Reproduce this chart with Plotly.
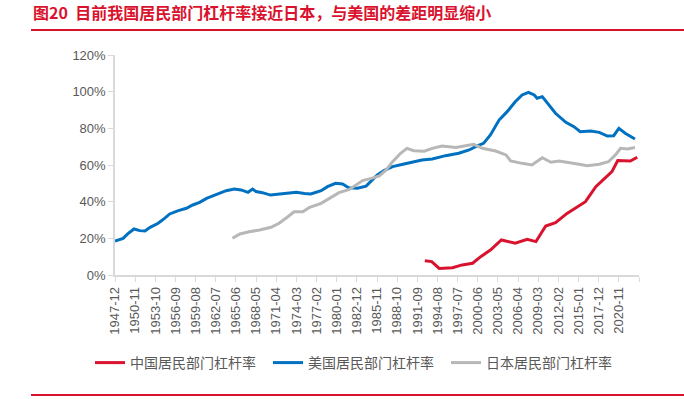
import plotly.graph_objects as go
import pandas as pd

# ---- data (household debt / GDP, %) ----
CN_DATES = ["1992-10", "1993-10", "1994-11", "1996-10", "1998-03", "1999-09", "2000-11", "2002-04",
            "2003-11", "2005-01", "2005-11", "2007-08", "2008-11", "2010-04", "2011-09", "2013-05",
            "2014-08", "2016-01", "2017-07", "2018-11", "2019-11", "2020-09", "2022-07", "2023-07"]
CN_VALUES = [7.8, 7.3, 3.6, 4.0, 5.5, 6.4, 10.0, 13.6,
             19.1, 18.2, 17.3, 19.5, 18.2, 26.7, 28.5, 33.6,
             36.4, 40.0, 48.2, 52.7, 56.4, 62.4, 62.2, 64.2]

US_DATES = ["1947-12", "1949-02", "1949-10", "1950-09", "1951-07", "1952-04", "1953-01", "1954-03",
            "1955-02", "1955-11", "1957-02", "1958-04", "1959-03", "1960-03", "1961-03", "1962-02",
            "1963-02", "1964-01", "1965-03", "1966-03", "1967-03", "1967-11", "1968-05", "1969-04",
            "1970-06", "1972-06", "1974-03", "1975-05", "1976-04", "1977-10", "1978-09", "1979-11",
            "1980-11", "1981-10", "1983-01", "1984-04", "1985-03", "1985-11", "1986-11", "1988-02",
            "1989-10", "1991-03", "1992-05", "1993-11", "1995-10", "1997-09", "1999-03", "2000-05",
            "2001-04", "2002-04", "2003-07", "2004-09", "2005-11", "2006-11", "2007-10", "2008-08",
            "2009-01", "2009-10", "2010-07", "2011-09", "2013-03", "2014-05", "2015-04", "2016-10",
            "2018-01", "2019-03", "2020-02", "2020-11", "2021-10", "2023-03"]
US_VALUES = [18.5, 20.0, 22.4, 25.1, 24.2, 24.0, 26.0, 28.2,
             30.9, 33.3, 35.1, 36.4, 38.2, 39.6, 41.8, 43.3,
             44.6, 46.0, 46.9, 46.4, 45.1, 46.9, 45.5, 44.9,
             43.6, 44.5, 45.1, 44.5, 44.2, 46.0, 48.2, 50.0,
             49.6, 47.6, 47.3, 48.5, 51.8, 54.5, 56.9, 59.1,
             60.5, 61.8, 62.7, 63.3, 65.1, 66.4, 68.2, 70.4,
             71.8, 76.4, 84.5, 89.1, 94.5, 98.2, 99.6, 98.2,
             96.4, 97.3, 93.6, 88.2, 83.3, 80.9, 78.2, 78.5,
             77.8, 75.8, 76.0, 80.0, 77.3, 74.2]

JP_DATES = ["1964-12", "1966-01", "1967-05", "1968-11", "1970-07", "1971-09", "1972-11", "1973-11",
            "1975-02", "1976-02", "1977-10", "1979-03", "1980-05", "1981-11", "1982-10", "1983-10",
            "1985-01", "1986-03", "1987-03", "1988-02", "1989-04", "1990-03", "1991-03", "1992-09",
            "1993-11", "1995-04", "1997-04", "1998-11", "1999-11", "2001-02", "2003-01", "2004-07",
            "2005-03", "2006-11", "2008-04", "2009-10", "2011-01", "2012-03", "2013-08", "2015-02",
            "2016-04", "2018-01", "2019-05", "2020-05", "2021-02", "2022-02", "2023-03"]
JP_VALUES = [20.0, 22.4, 23.6, 24.5, 26.0, 28.2, 31.5, 34.5,
             34.5, 36.9, 39.1, 42.4, 44.9, 46.7, 49.1, 51.5,
             52.7, 54.0, 57.3, 61.8, 66.4, 69.1, 67.8, 67.5,
             69.1, 70.4, 69.5, 70.4, 71.3, 69.1, 67.6, 65.5,
             62.2, 60.9, 60.0, 64.0, 61.5, 62.2, 61.5, 60.4,
             59.6, 60.4, 61.8, 65.5, 69.1, 68.7, 69.5]

TICK_LABELS = ["1947-12", "1950-11", "1953-10", "1956-09", "1959-08", "1962-07", "1965-06",
               "1968-05", "1971-04", "1974-03", "1977-02", "1980-01", "1982-12", "1985-11",
               "1988-10", "1991-09", "1994-08", "1997-07", "2000-06", "2003-05", "2006-04",
               "2009-03", "2012-02", "2015-01", "2017-12", "2020-11"]
AXIS_END = "2023-10"

SERIES_NAMES = ["中国居民部门杠杆率", "美国居民部门杠杆率", "日本居民部门杠杆率"]
TITLE = "图20  目前我国居民部门杠杆率接近日本，与美国的差距明显缩小"

# ---- figure ----
W, H = 684, 399
L, T = 115, 55
R = W - 639
B = H - 275
PW, PH = W - L - R, H - T - B

def px_x(p):
    return (p - L) / PW

def px_y(p):
    return (H - B - p) / PH

def to_dt(lst):
    return pd.to_datetime([d + "-01" for d in lst])

RED, BLUE, GRAY = "#D9132E", "#0070C0", "#B7B7B7"
TXT = "#595959"
AXC = "#D9D9D9"
CJK = "Noto Sans CJK SC"
LAT = "Liberation Sans, Arial"

fig = go.Figure()
for name, d, v, c in [(SERIES_NAMES[0], CN_DATES, CN_VALUES, RED),
                      (SERIES_NAMES[1], US_DATES, US_VALUES, BLUE),
                      (SERIES_NAMES[2], JP_DATES, JP_VALUES, GRAY)]:
    fig.add_trace(go.Scatter(x=to_dt(d), y=v, mode="lines", name=name,
                             line=dict(color=c, width=3)))

tickvals = list(to_dt(TICK_LABELS)) + list(to_dt([AXIS_END]))
ticktext = TICK_LABELS + [""]

fig.update_layout(
    width=W, height=H,
    margin=dict(l=L, r=R, t=T, b=B, autoexpand=False),
    paper_bgcolor="white", plot_bgcolor="white",
    showlegend=True,
    legend=dict(orientation="h", x=px_x(90), xanchor="left", y=px_y(363), yanchor="middle",
                font=dict(family=CJK, size=14, color=TXT), itemwidth=30,
                entrywidth=133, entrywidthmode="pixels",
                traceorder="normal", bgcolor="rgba(0,0,0,0)"),
    xaxis=dict(type="date", range=[to_dt(TICK_LABELS[:1])[0], to_dt([AXIS_END])[0]],
               tickmode="array", tickvals=tickvals, ticktext=ticktext, tickangle=-90,
               showgrid=False, zeroline=False, showline=True, linecolor=AXC, linewidth=1.5,
               ticks="outside", ticklen=5, tickcolor=AXC, tickwidth=1,
               tickfont=dict(family=LAT, size=13, color=TXT)),
    yaxis=dict(range=[0, 120], dtick=20, ticksuffix="%", showgrid=False, zeroline=False,
               showline=True, linecolor=AXC, linewidth=1.5, ticks="outside", ticklen=5,
               tickcolor=AXC, tickwidth=1,
               tickfont=dict(family=LAT, size=13, color=TXT)),
)

fig.add_annotation(text=TITLE, xref="paper", yref="paper", x=px_x(31), y=px_y(12),
                   xanchor="left", yanchor="middle", showarrow=False,
                   font=dict(family=CJK, size=16, color=RED, weight="bold"))
fig.add_shape(type="line", xref="paper", yref="paper", x0=px_x(31), x1=px_x(684),
              y0=px_y(30), y1=px_y(30), line=dict(color=RED, width=2))
fig.add_shape(type="line", xref="paper", yref="paper", x0=px_x(31), x1=px_x(684),
              y0=px_y(395), y1=px_y(395), line=dict(color=RED, width=2))

# remove the browser's default 8px page margin so the figure sits at the window origin
fig.write_html("out.html", config={"displayModeBar": False},
               post_script="document.body.style.margin='0';")
